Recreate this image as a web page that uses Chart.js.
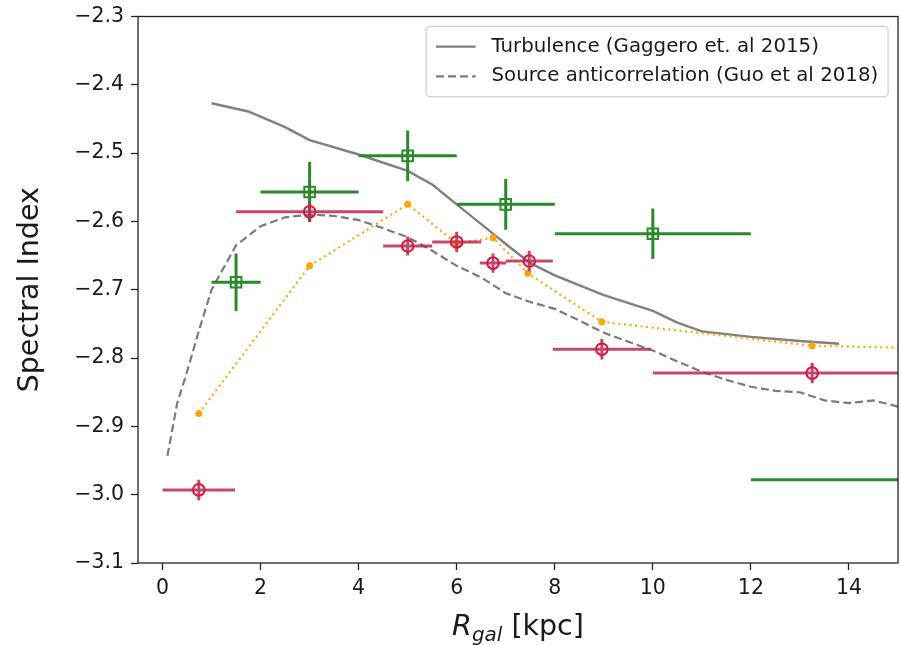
<!DOCTYPE html>
<html>
<head>
<meta charset="utf-8">
<title>Spectral index vs galactocentric radius</title>
<script src="https://cdn.jsdelivr.net/npm/chart.js@4.4.0/dist/chart.umd.min.js"></script>
<style>
    html, body { margin: 0; padding: 0; background: #ffffff; overflow: hidden; }
    #wrap { width: 901px; height: 645px; }
    #spectral { display: block; }
</style>
</head>
<body>
<div id="wrap"><canvas id="spectral" width="901" height="645"></canvas></div>
<script>
/* ====================================
   Data
   ==================================== */

// Axis ticks
const xTicks = [0, 2, 4, 6, 8, 10, 12, 14];
const yTicks = [-3.1, -3.0, -2.9, -2.8, -2.7, -2.6, -2.5, -2.4, -2.3];

// Measured index, circles (bin centre, value, half widths)
const circX    = [0.74, 3.0, 5.0, 6.0, 6.74, 7.48, 8.96, 13.25];
const circY    = [-2.993, -2.586, -2.636, -2.630, -2.661, -2.658, -2.787, -2.822];
const circXErr = [0.74, 1.5, 0.5, 0.5, 0.27, 0.48, 1.0, 3.25];
const circYErr = [0.015, 0.014, 0.014, 0.015, 0.014, 0.015, 0.015, 0.015];

// Measured index, squares
const sqX    = [1.5, 3.0, 5.0, 7.0, 10.0, 16.0];
const sqY    = [-2.689, -2.557, -2.504, -2.575, -2.618, -2.978];
const sqXErr = [0.5, 1.0, 1.0, 1.0, 2.0, 4.0];
const sqYErr = [0.042, 0.044, 0.037, 0.037, 0.037, 0.04];

// Model evaluated at the circle bins
const dotX = [0.74, 3.0, 5.0, 6.0, 6.74, 7.45, 8.96, 13.25, 16.5];
const dotY = [-2.881, -2.665, -2.575, -2.632, -2.624, -2.676, -2.747, -2.782, -2.787];

// Turbulence (Gaggero et. al 2015)
const turbX = [1.0, 1.75, 2.5, 3.0, 4.0, 5.0, 5.5, 6.0, 6.5, 7.0, 7.5, 8.0, 9.0, 10.0, 10.5, 11.0, 12.0, 13.0, 13.8];
const turbY = [-2.427, -2.439, -2.462, -2.481, -2.502, -2.526, -2.546, -2.575, -2.604, -2.633, -2.661, -2.679,
               -2.708, -2.731, -2.748, -2.761, -2.769, -2.775, -2.779];

// Source anticorrelation (Guo et al 2018)
const anticX = [0.1, 0.3, 0.5, 0.75, 1.0, 1.5, 2.0, 2.5, 3.0, 3.5, 4.0, 4.5, 5.0, 5.5, 6.0, 6.5, 7.0, 7.5,
                8.0, 8.5, 9.0, 9.5, 10.0, 10.5, 11.0, 11.5, 12.0, 12.5, 13.0, 13.5, 14.0, 14.5, 15.0];
const anticY = [-2.943, -2.866, -2.82, -2.758, -2.70, -2.635, -2.607, -2.594, -2.59, -2.592, -2.598, -2.61,
                -2.623, -2.643, -2.665, -2.682, -2.705, -2.718, -2.728, -2.745, -2.763, -2.776, -2.789, -2.805,
                -2.82, -2.832, -2.842, -2.848, -2.85, -2.862, -2.866, -2.862, -2.871];

/* ====================================
   Helpers
   ==================================== */

const FONT = 'DejaVu Sans';
const TEXT_COLOR = '#1a1a1a';
const TICK_SIZE = 20.5;
const TITLE_SIZE = 28.5;

function toPoints(xs, ys) {
    return xs.map((x, i) => ({ x: x, y: ys[i] }));
}

// Error bars as one broken line: null y values split the segments
function errorSegments(xs, ys, xe, ye) {
    const pts = [];
    xs.forEach((x, i) => {
        pts.push({ x: x - xe[i], y: ys[i] }, { x: x + xe[i], y: ys[i] }, { x: x, y: null });
        pts.push({ x: x, y: ys[i] - ye[i] }, { x: x, y: ys[i] + ye[i] }, { x: x, y: null });
    });
    return pts;
}

function fmtTick(v) {
    const s = Math.abs(v).toFixed(1);
    return v < 0 ? '\u2212' + s : s;
}

/* ====================================
   Plugins
   ==================================== */

// Full box around the plot area
const axesFrame = {
    id: 'axesFrame',
    afterDraw(chart) {
        const { ctx, chartArea: a } = chart;
        ctx.save();
        ctx.strokeStyle = '#222';
        ctx.lineWidth = 1.3;
        ctx.strokeRect(a.left, a.top, a.right - a.left, a.bottom - a.top);
        ctx.restore();
    }
};

// Axis titles (x title uses italic R with subscript)
const axisTitles = {
    id: 'axisTitles',
    afterDraw(chart) {
        const { ctx, chartArea: a } = chart;
        ctx.save();
        ctx.fillStyle = TEXT_COLOR;

        // y title
        ctx.translate(31, (a.top + a.bottom) / 2);
        ctx.rotate(-Math.PI / 2);
        ctx.font = TITLE_SIZE + 'px "' + FONT + '"';
        ctx.textAlign = 'center';
        ctx.textBaseline = 'middle';
        ctx.fillText('Spectral Index', 0, 0);
        ctx.setTransform(1, 0, 0, 1, 0, 0);

        // x title
        const big = 'italic ' + TITLE_SIZE + 'px "' + FONT + '"';
        const sub = 'italic ' + (TITLE_SIZE * 0.7) + 'px "' + FONT + '"';
        const reg = TITLE_SIZE + 'px "' + FONT + '"';
        ctx.textAlign = 'left';
        ctx.textBaseline = 'alphabetic';
        ctx.font = big; const wR = ctx.measureText('R').width;
        ctx.font = sub; const wG = ctx.measureText('gal').width;
        ctx.font = reg; const wK = ctx.measureText(' [kpc]').width;
        const base = 635;
        let x = (a.left + a.right) / 2 - (wR + wG + wK) / 2;
        ctx.font = big; ctx.fillText('R', x, base); x += wR;
        ctx.font = sub; ctx.fillText('gal', x, base + 6); x += wG;
        ctx.font = reg; ctx.fillText(' [kpc]', x, base);
        ctx.restore();
    }
};

// Legend box in the upper right of the plot area
const cornerLegend = {
    id: 'cornerLegend',
    afterDraw(chart, args, opts) {
        const { ctx, chartArea: a } = chart;
        const fs = opts.fontSize;
        const items = chart.data.datasets.filter(d => d.inLegend);
        ctx.save();
        ctx.font = fs + 'px "' + FONT + '"';
        const textW = Math.max(...items.map(d => ctx.measureText(d.label).width));
        const pad = 0.5 * fs, handle = 2 * fs, gap = 0.8 * fs, row = 1.5 * fs;
        const w = pad * 2 + handle + gap + textW;
        const h = 0.8 * fs + row * items.length - 0.25 * fs;
        const right = a.right - 0.5 * fs;
        const top = a.top + 0.5 * fs;
        const left = right - w;

        ctx.fillStyle = 'rgba(255,255,255,0.8)';
        ctx.strokeStyle = 'rgba(204,204,204,0.9)';
        ctx.lineWidth = 1.3;
        ctx.beginPath();
        ctx.roundRect(left, top, w, h, 4);
        ctx.fill();
        ctx.stroke();

        items.forEach((d, i) => {
            const cy = top + 0.4 * fs + 0.62 * fs + i * row;
            ctx.strokeStyle = d.borderColor;
            ctx.lineWidth = d.borderWidth;
            ctx.setLineDash(d.borderDash || []);
            ctx.beginPath();
            ctx.moveTo(left + pad, cy);
            ctx.lineTo(left + pad + handle, cy);
            ctx.stroke();
            ctx.setLineDash([]);
            ctx.fillStyle = TEXT_COLOR;
            ctx.textBaseline = 'middle';
            ctx.fillText(d.label, left + pad + handle + gap, cy);
        });
        ctx.restore();
    }
};

/* ====================================
   Chart
   ==================================== */

const circColor = 'crimson';
const circBarColor = 'rgba(185, 40, 80, 0.85)';
const sqColor = '#2a8a2a';

const chart = new Chart(document.getElementById('spectral'), {
    type: 'line',
    data: {
        datasets: [
            {
                label: 'Turbulence (Gaggero et. al 2015)',
                inLegend: true,
                data: toPoints(turbX, turbY),
                borderColor: '#808080',
                borderWidth: 2.4,
                pointRadius: 0,
                tension: 0,
                order: 6
            },
            {
                label: 'Source anticorrelation (Guo et al 2018)',
                inLegend: true,
                data: toPoints(anticX, anticY),
                borderColor: '#7a7a7a',
                borderWidth: 2.2,
                borderDash: [8, 4],
                pointRadius: 0,
                tension: 0,
                order: 5
            },
            {
                label: 'model',
                data: toPoints(dotX, dotY),
                borderColor: 'orange',
                backgroundColor: 'orange',
                borderWidth: 2.2,
                borderDash: [2, 3.6],
                pointRadius: 3.5,
                pointBorderWidth: 0,
                tension: 0,
                order: 4
            },
            {
                label: 'squares err',
                data: errorSegments(sqX, sqY, sqXErr, sqYErr),
                borderColor: sqColor,
                borderWidth: 3,
                pointRadius: 0,
                spanGaps: false,
                order: 3
            },
            {
                label: 'squares',
                data: toPoints(sqX, sqY),
                showLine: false,
                pointStyle: 'rect',
                pointRadius: 7.5,
                pointBorderWidth: 2,
                pointBorderColor: sqColor,
                pointBackgroundColor: 'rgba(0,0,0,0)',
                order: 2
            },
            {
                label: 'circles err',
                data: errorSegments(circX, circY, circXErr, circYErr),
                borderColor: circBarColor,
                borderWidth: 3,
                pointRadius: 0,
                spanGaps: false,
                order: 1
            },
            {
                label: 'circles',
                data: toPoints(circX, circY),
                showLine: false,
                pointStyle: 'circle',
                pointRadius: 5.8,
                pointBorderWidth: 2,
                pointBorderColor: circColor,
                pointBackgroundColor: 'rgba(0,0,0,0)',
                order: 0
            }
        ]
    },
    options: {
        responsive: false,
        animation: false,
        events: [],
        layout: { autoPadding: false, padding: { top: 16.5, right: 3, left: 0, bottom: 0 } },
        plugins: {
            legend: { display: false },
            tooltip: { enabled: false },
            cornerLegend: { fontSize: 19.8 }
        },
        scales: {
            x: {
                type: 'linear',
                min: -0.5,
                max: 15,
                afterBuildTicks: s => { s.ticks = xTicks.map(v => ({ value: v })); },
                afterFit: s => { s.height = 82; s.paddingLeft = 0; s.paddingRight = 0; },
                border: { display: false },
                grid: { drawOnChartArea: false, drawTicks: true, tickLength: 7, tickWidth: 1.3, tickColor: '#222' },
                ticks: {
                    font: { family: FONT, size: TICK_SIZE },
                    color: TEXT_COLOR,
                    padding: 6,
                    maxRotation: 0,
                    callback: v => String(v)
                }
            },
            y: {
                type: 'linear',
                min: -3.1,
                max: -2.3,
                afterBuildTicks: s => { s.ticks = yTicks.map(v => ({ value: v })); },
                afterFit: s => { s.width = 138; s.paddingTop = 0; s.paddingBottom = 0; },
                border: { display: false },
                grid: { drawOnChartArea: false, drawTicks: true, tickLength: 7, tickWidth: 1.3, tickColor: '#222' },
                ticks: {
                    font: { family: FONT, size: TICK_SIZE },
                    color: TEXT_COLOR,
                    padding: 7,
                    callback: v => fmtTick(v)
                }
            }
        }
    },
    plugins: [axesFrame, axisTitles, cornerLegend]
});
</script>
</body>
</html>
